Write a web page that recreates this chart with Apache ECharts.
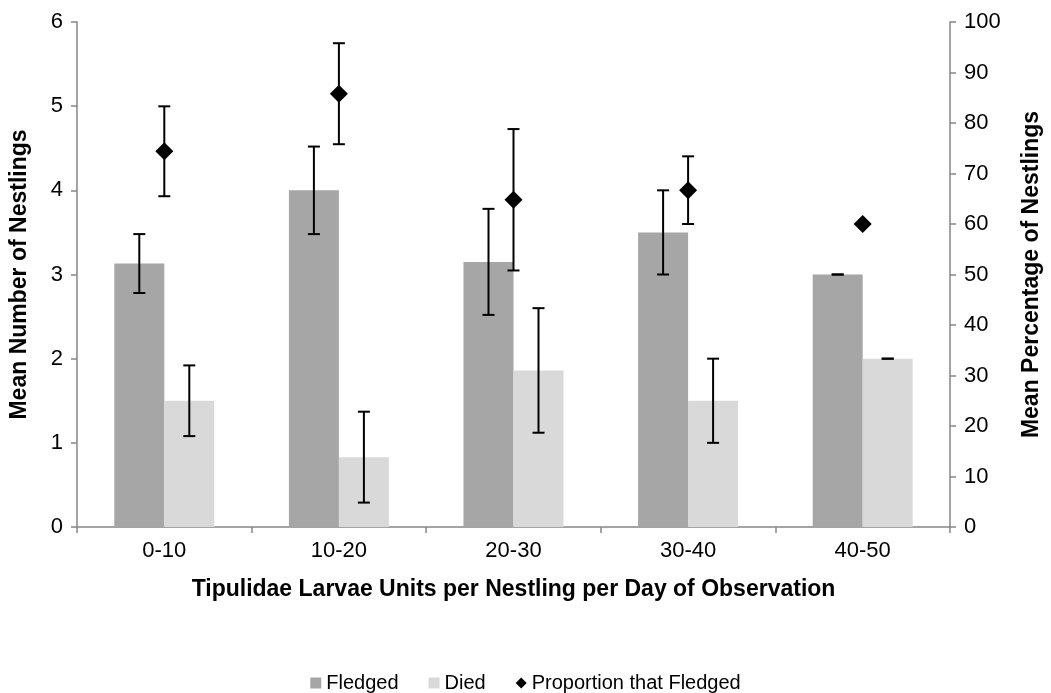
<!DOCTYPE html>
<html>
<head>
<meta charset="utf-8">
<script src="https://cdn.jsdelivr.net/npm/echarts@6/dist/echarts.min.js"></script>
<style>
html,body{margin:0;padding:0;background:#fff;}
#chart{width:1051px;height:693px;}
</style>
</head>
<body>
<div id="chart"></div>
<script>
const categories = ['0-10', '10-20', '20-30', '30-40', '40-50'];
const fledged = [3.13, 4.0, 3.15, 3.5, 3.0];
const fledgedErr = [0.35, 0.52, 0.63, 0.5, 0];
const died = [1.5, 0.83, 1.86, 1.5, 2.0];
const diedErr = [0.42, 0.54, 0.74, 0.5, 0];
const proportion = [74.4, 85.8, 64.8, 66.7, 60.0];
const proportionErr = [8.9, 10.0, 14.0, 6.7, 0];
const leftTicks = { min: 0, max: 6, interval: 1 };
const rightTicks = { min: 0, max: 100, interval: 10 };

const FONT = '"Liberation Sans", Arial, sans-serif';
const AXIS_COLOR = '#868686';
const BAR_W = 50;

function errData(vals, errs) {
  return vals.map((v, i) => [i, v - errs[i], v + errs[i]]);
}
function errRender(offsetSign) {
  return function (params, api) {
    const i = api.value(0);
    const lo = api.coord([i, api.value(1)]);
    const hi = api.coord([i, api.value(2)]);
    const x = lo[0] + offsetSign * BAR_W / 2;
    const cap = 6;
    const style = { stroke: '#000', lineWidth: 2, fill: null };
    return {
      type: 'group',
      children: [
        { type: 'line', shape: { x1: x, y1: lo[1], x2: x, y2: hi[1] }, style },
        { type: 'line', shape: { x1: x - cap, y1: lo[1], x2: x + cap, y2: lo[1] }, style },
        { type: 'line', shape: { x1: x - cap, y1: hi[1], x2: x + cap, y2: hi[1] }, style }
      ]
    };
  };
}

const chart = echarts.init(document.getElementById('chart'), null, { renderer: 'canvas' });
const axisBase = {
  axisLine: { show: true, lineStyle: { color: AXIS_COLOR, width: 1.5 } },
  axisTick: { show: true, length: 6, lineStyle: { color: AXIS_COLOR, width: 1.5 } },
  splitLine: { show: false },
  axisLabel: { color: '#000', fontSize: 22, fontFamily: FONT },
  nameTextStyle: { color: '#000', fontSize: 23, fontWeight: 'bold', fontFamily: FONT }
};

chart.setOption({
  animation: false,
  backgroundColor: '#fff',
  textStyle: { fontFamily: FONT },
  grid: { left: 76, right: 95, top: 22, bottom: 166, containLabel: false },
  legend: {
    top: 668,
    left: 'center',
    itemGap: 30,
    itemWidth: 11,
    itemHeight: 11,
    textStyle: { color: '#000', fontSize: 20, fontFamily: FONT },
    data: [
      { name: 'Fledged', icon: 'rect' },
      { name: 'Died', icon: 'rect' },
      { name: 'Proportion that Fledged', icon: 'diamond' }
    ]
  },
  xAxis: Object.assign({}, axisBase, {
    type: 'category',
    data: categories,
    axisLabel: Object.assign({}, axisBase.axisLabel, { margin: 13 }),
    name: 'Tipulidae Larvae Units per Nestling per Day of Observation',
    nameLocation: 'middle',
    nameGap: 51
  }),
  yAxis: [
    Object.assign({}, axisBase, {
      type: 'value',
      min: leftTicks.min, max: leftTicks.max, interval: leftTicks.interval,
      position: 'left',
      axisLabel: Object.assign({}, axisBase.axisLabel, { margin: 14 }),
      name: 'Mean Number of Nestlings',
      nameLocation: 'middle',
      nameRotate: 90,
      nameGap: 46
    }),
    Object.assign({}, axisBase, {
      type: 'value',
      min: rightTicks.min, max: rightTicks.max, interval: rightTicks.interval,
      position: 'right',
      axisLabel: Object.assign({}, axisBase.axisLabel, { margin: 14 }),
      name: 'Mean Percentage of Nestlings',
      nameLocation: 'middle',
      nameRotate: 90,
      nameGap: 70
    })
  ],
  series: [
    { name: 'Fledged', type: 'bar', data: fledged, barWidth: BAR_W, barGap: '0%',
      itemStyle: { color: '#a6a6a6' }, yAxisIndex: 0, z: 2 },
    { name: 'Died', type: 'bar', data: died, barWidth: BAR_W, barGap: '0%',
      itemStyle: { color: '#d9d9d9' }, yAxisIndex: 0, z: 2 },
    { name: 'fledgedErr', type: 'custom', renderItem: errRender(-1), data: errData(fledged, fledgedErr),
      yAxisIndex: 0, z: 5, silent: true, encode: { x: 0, y: [1, 2] } },
    { name: 'diedErr', type: 'custom', renderItem: errRender(1), data: errData(died, diedErr),
      yAxisIndex: 0, z: 5, silent: true, encode: { x: 0, y: [1, 2] } },
    { name: 'propErr', type: 'custom', renderItem: errRender(0), data: errData(proportion, proportionErr),
      yAxisIndex: 1, z: 5, silent: true, encode: { x: 0, y: [1, 2] } },
    { name: 'Proportion that Fledged', type: 'scatter', data: proportion, yAxisIndex: 1,
      symbol: 'diamond', symbolSize: 18, itemStyle: { color: '#000', opacity: 1 }, z: 6 }
  ]
});
</script>
</body>
</html>
